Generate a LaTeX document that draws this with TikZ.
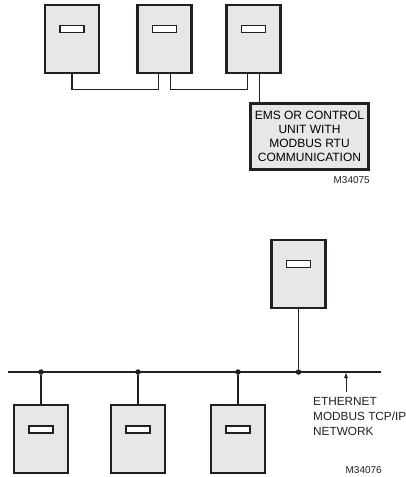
\documentclass[tikz,border=0pt]{standalone}
\usepackage{fontspec}
\setmainfont{Liberation Sans}
\usetikzlibrary{arrows.meta,positioning,calc}
\definecolor{Ink}{HTML}{231F20}
\definecolor{CaseGray}{HTML}{E6E7E8}
\tikzset{
 unit/.style={draw=Ink, line width=2.5pt, fill=CaseGray, minimum width=54pt, minimum height=68pt, inner sep=0pt},
 slot/.style={draw=Ink, line width=1.2pt, fill=white, minimum width=24pt, minimum height=7pt, inner sep=0pt},
 emsbox/.style={draw=Ink, line width=2.5pt, fill=CaseGray, minimum width=118pt, minimum height=66pt, inner sep=0pt, align=center, font=\fontsize{12}{14}\selectfont},
 wire/.style={draw=Ink, line width=1.2pt},
 tap/.style={circle, fill=Ink, inner sep=0pt, minimum size=5.5pt},
 pointer/.style={-{Latex[length=6pt,width=4pt]}, draw=Ink, line width=1pt},
 note/.style={align=left, inner sep=0pt, text=Ink, font=\fontsize{11.8}{15}\selectfont},
 tag/.style={inner sep=0pt, text=Ink, font=\fontsize{10}{12}\selectfont}
}
\begin{document}
\begin{tikzpicture}[x=1pt,y=-1pt]
\useasboundingbox (0,0) rectangle (406,477);
% RTU daisy chain
\node[unit] (u1) at (72,39) {};
\node[unit] (u2) at (164.5,39) {};
\node[unit] (u3) at (253.5,39) {};
\foreach \u in {u1,u2,u3}
  \node[slot] (\u-slot) at ([yshift=-25.5pt]\u.north) {};
\node[emsbox] (ems) at (309.5,136.5) {EMS OR CONTROL\\UNIT WITH\\MODBUS RTU\\COMMUNICATION};
\draw[wire] (u1.south) -- ++(0,15) -| ([xshift=-6pt]u2.south);
\draw[wire] ([xshift=6pt]u2.south) -- ++(0,15) -| ([xshift=-6pt]u3.south);
\draw[wire] ([xshift=6pt]u3.south) -- ([xshift=6pt]u3.south |- ems.north);
\node[tag, anchor=base east] (m1) at (370,183) {M34075};
% TCP/IP bus
\coordinate (busL) at (8,372);
\coordinate (busR) at (381,372);
\draw[wire] (busL) -- (busR);
\node[tap] (t1) at (41,372) {};
\node[tap] (t2) at (138,372) {};
\node[tap] (t3) at (238,372) {};
\node[tap] (t4) at (298.5,372) {};
\node[unit] (top) at (298.5,274) {};
\node[unit, below=29pt of t1] (d1) {};
\node[unit, below=29pt of t2] (d2) {};
\node[unit, below=29pt of t3] (d3) {};
\foreach \u in {top,d1,d2,d3}
  \node[slot] (\u-slot) at ([yshift=-25.5pt]\u.north) {};
\draw[wire] (top.south) -- (t4);
\foreach \i in {1,2,3}
  \draw[wire] (t\i) -- (d\i.north);
\coordinate (tail) at (346,392);
\draw[pointer] (tail) -- (tail |- busR);
\node[note, anchor=north west] (net) at (313,397.5) {ETHERNET\\MODBUS TCP/IP\\NETWORK};
\node[tag, anchor=base east] (m2) at (382,473) {M34076};
\end{tikzpicture}
\end{document}
